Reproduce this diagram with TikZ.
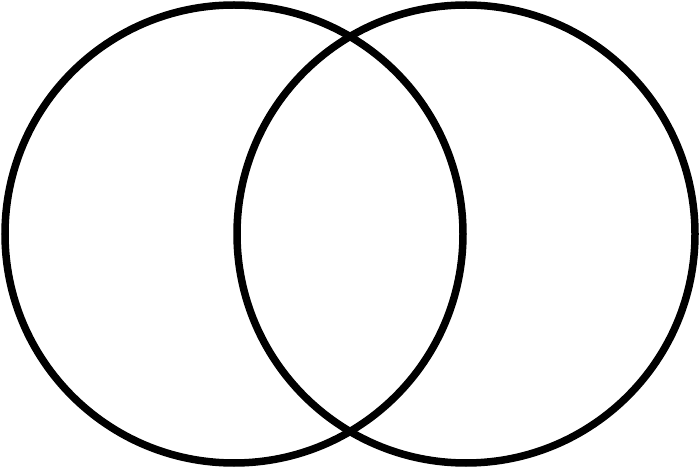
\documentclass[tikz,border=0pt]{standalone}
\usetikzlibrary{positioning}

\begin{document}
\begin{tikzpicture}[ring/.style={draw=black, line width=0.15cm}]
  \useasboundingbox (0,0) rectangle (14,9.38);
  \coordinate (lc) at (4.68,4.70);
  \coordinate (rc) at (9.32,4.70);
  \draw[ring] (lc) circle (4.58);
  \draw[ring] (rc) circle (4.58);
\end{tikzpicture}
\end{document}
